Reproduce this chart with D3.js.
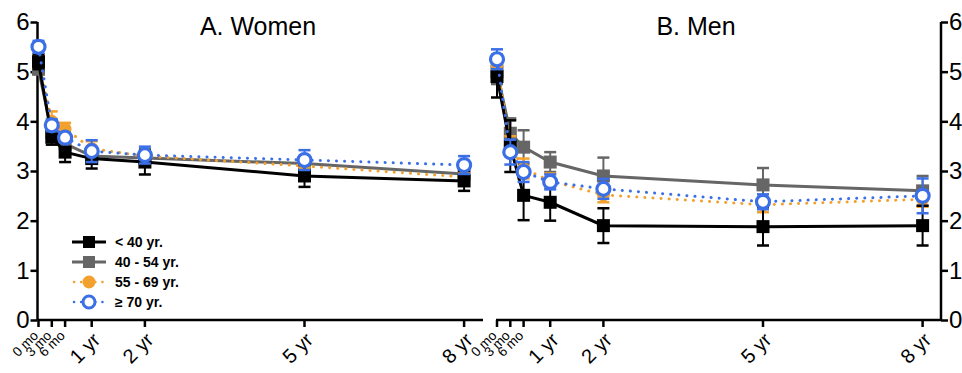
<!DOCTYPE html>
<html><head><meta charset="utf-8">
<script src="https://cdn.jsdelivr.net/npm/d3@7"></script>
<style>body{margin:0;background:#fff}svg{display:block;font-family:"Liberation Sans",Arial,sans-serif}</style>
</head><body><svg id="c" width="962" height="373"></svg>
<script>
// ---------- data ----------
const times = [0, 0.25, 0.5, 1, 2, 5, 8]; // years
const tickLabels = ["0 mo", "3 mo", "6 mo", "1 yr", "2 yr", "5 yr", "8 yr"];
const seriesNames = ["< 40 yr.", "40 - 54 yr.", "55 - 69 yr.", "\u2265 70 yr."];
const yTicks = [0, 1, 2, 3, 4, 5, 6];

const womenU40 = [5.2, 3.68, 3.38, 3.25, 3.18, 2.9, 2.8];
const womenU40Err = [0.15, 0.15, 0.2, 0.2, 0.25, 0.22, 0.2];
const women40 = [5.05, 3.78, 3.55, 3.3, 3.26, 3.15, 2.94];
const women40Err = [0.1, 0.1, 0.12, 0.1, 0.1, 0.1, 0.1];
const women55 = [5.2, 4.0, 3.85, 3.45, 3.3, 3.1, 2.88];
const women55Err = [0.12, 0.2, 0.12, 0.15, 0.1, 0.1, 0.1];
const women70 = [5.5, 3.92, 3.67, 3.4, 3.32, 3.22, 3.12];
const women70Err = [0.12, 0.12, 0.1, 0.22, 0.17, 0.2, 0.18];

const menU40 = [4.9, 3.5, 2.51, 2.37, 1.9, 1.88, 1.9];
const menU40Err = [0.42, 0.52, 0.5, 0.37, 0.35, 0.38, 0.4];
const men40 = [5.0, 3.76, 3.48, 3.18, 2.9, 2.72, 2.6];
const men40Err = [0.25, 0.3, 0.34, 0.2, 0.37, 0.34, 0.3];
const men55 = [5.15, 3.5, 3.05, 2.8, 2.52, 2.32, 2.43];
const men55Err = [0.2, 0.2, 0.2, 0.15, 0.15, 0.15, 0.15];
const men70 = [5.25, 3.38, 2.98, 2.78, 2.64, 2.38, 2.5];
const men70Err = [0.2, 0.25, 0.2, 0.15, 0.2, 0.15, 0.35];

const colors = ["#000000", "#666666", "#f2a12e", "#3b6fe6"];
const drawOrder = [1, 2, 0, 3];

// ---------- drawing ----------
const svg = d3.select("#c");
const y = d3.scaleLinear().domain([0, 6]).range([320, 22]);

function panel(x0, x1, title, titleX, data, yRight) {
  const x = d3.scaleLinear().domain([0, 8]).range([x0, x0 + 8 * 53.2]);
  const g = svg.append("g");
  g.append("line").attr("x1", x0 - 1).attr("x2", x1).attr("y1", 320).attr("y2", 320)
    .attr("stroke", "#000").attr("stroke-width", 2.5);
  times.forEach((t, i) => {
    g.append("line").attr("x1", x(t)).attr("x2", x(t)).attr("y1", 320).attr("y2", 327)
      .attr("stroke", "#000").attr("stroke-width", 2.5);
    const small = i < 3;
    const tx = small ? x(t) - 10 : x(t) - 2;
    const ty = small ? 347 : 353;
    g.append("text").attr("transform", `translate(${tx},${ty}) rotate(-45)`)
      .attr("text-anchor", "middle").attr("font-size", small ? 13.5 : 20).text(tickLabels[i]);
  });
  const ax = yRight ? x1 : x0 - 1;
  const axis = (yRight ? d3.axisRight(y) : d3.axisLeft(y)).tickValues(yTicks).tickFormat(d3.format("d"))
    .tickSize(7).tickPadding(1);
  const ya = g.append("g").attr("transform", `translate(${ax},0)`).call(axis);
  ya.select(".domain").attr("stroke-width", 2.5).attr("d", `M0,${y(6)}V${y(0)}`);
  ya.selectAll(".tick line").attr("stroke-width", 2.5);
  ya.selectAll(".tick text").attr("font-size", 24).attr("fill", "#000")
    .attr("font-family", "'Liberation Sans',Arial,sans-serif");
  g.append("text").attr("x", titleX).attr("y", 35).attr("text-anchor", "middle")
    .attr("font-size", 25).text(title);

  const line = d3.line().x((d, i) => x(times[i])).y(d => y(d));
  drawOrder.forEach(k => {
    const s = data[k];
    const c = colors[k];
    const gs = g.append("g");
    const p = gs.append("path").attr("d", line(s.v)).attr("fill", "none").attr("stroke", c);
    if (k < 2) p.attr("stroke-width", 3);
    else p.attr("stroke-width", 3).attr("stroke-dasharray", "0.1 8").attr("stroke-linecap", "round");
    s.v.forEach((v, i) => {
      const xx = x(times[i]);
      const e = s.e[i];
      gs.append("line").attr("x1", xx).attr("x2", xx).attr("y1", y(v + e)).attr("y2", y(v - e))
        .attr("stroke", c).attr("stroke-width", 2);
      [v + e, v - e].forEach(w => gs.append("line").attr("x1", xx - 6).attr("x2", xx + 6)
        .attr("y1", y(w)).attr("y2", y(w)).attr("stroke", c).attr("stroke-width", 2.5));
    });
    s.v.forEach((v, i) => {
      const xx = x(times[i]), yy = y(v);
      if (k < 2) gs.append("rect").attr("x", xx - 6.5).attr("y", yy - 6.5).attr("width", 13).attr("height", 13).attr("fill", c);
      else if (k === 2) gs.append("circle").attr("cx", xx).attr("cy", yy).attr("r", 6.5).attr("fill", c);
      else gs.append("circle").attr("cx", xx).attr("cy", yy).attr("r", 6.5).attr("fill", "#fff")
        .attr("stroke", c).attr("stroke-width", 3.2);
    });
  });
}

panel(38.5, 483, "A. Women", 258, [
  {v: womenU40, e: womenU40Err}, {v: women40, e: women40Err},
  {v: women55, e: women55Err}, {v: women70, e: women70Err}], false);
panel(497, 941, "B. Men", 696, [
  {v: menU40, e: menU40Err}, {v: men40, e: men40Err},
  {v: men55, e: men55Err}, {v: men70, e: men70Err}], true);

const lg = svg.append("g");
seriesNames.forEach((n, k) => {
  const yy = 242 + k * 20;
  const c = colors[k];
  const ln = lg.append("line").attr("x1", 72).attr("x2", 106).attr("y1", yy).attr("y2", yy).attr("stroke", c);
  if (k < 2) ln.attr("stroke-width", 3);
  else ln.attr("x1", 74).attr("x2", 104).attr("stroke-width", 2.5).attr("stroke-dasharray", "0.1 7").attr("stroke-linecap", "round");
  if (k < 2) lg.append("rect").attr("x", 83).attr("y", yy - 6).attr("width", 12).attr("height", 12).attr("fill", c);
  else if (k === 2) lg.append("circle").attr("cx", 89).attr("cy", yy).attr("r", 6.5).attr("fill", c);
  else lg.append("circle").attr("cx", 89).attr("cy", yy).attr("r", 6).attr("fill", "#fff").attr("stroke", c).attr("stroke-width", 3);
  lg.append("text").attr("x", 115).attr("y", yy + 5).attr("font-size", 14).attr("font-weight", "bold").text(n);
});
</script></body></html>
